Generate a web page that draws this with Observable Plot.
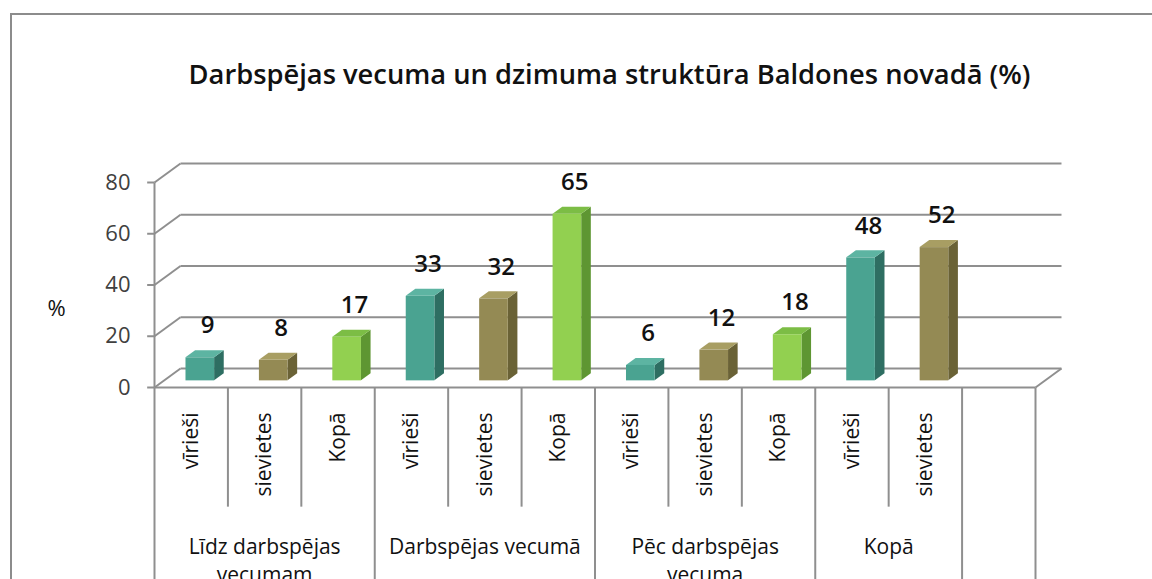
<!DOCTYPE html>
<html>
<head>
<meta charset="utf-8">
<script src="https://cdn.jsdelivr.net/npm/d3@7"></script>
<script src="https://cdn.jsdelivr.net/npm/@observablehq/plot@0.6"></script>
<style>
  html, body { margin: 0; padding: 0; background: #fff; overflow: hidden; }
  #wrap { position: relative; width: 1152px; height: 579px; }
  #border { position: absolute; left: 10px; top: 13px; width: 2000px; height: 2000px; border: 2px solid #8c8c8c; box-sizing: border-box; }
  #chart { position: absolute; left: 0; top: 0; }
</style>
</head>
<body>
<div id="wrap"><div id="border"></div><div id="chart"></div></div>
<script>
// ---- data ----
const title = "Darbspējas vecuma un dzimuma struktūra Baldones novadā (%)";
const yLabel = "%";
const groups = ["Līdz darbspējas\nvecumam", "Darbspējas vecumā", "Pēc darbspējas\nvecuma", "Kopā"];
const groupStart = [0, 3, 6, 9];
const groupSize = [3, 3, 3, 2];
const subs = ["vīrieši", "sievietes", "Kopā", "vīrieši", "sievietes", "Kopā", "vīrieši", "sievietes", "Kopā", "vīrieši", "sievietes"];
const values = [9, 8, 17, 33, 32, 65, 6, 12, 18, 48, 52];
const yTicks = [0, 20, 40, 60, 80];
const slotCount = 12;

// ---- styling ----
const palette = {
  "vīrieši":   {front: "#4aa391", side: "#2e6e62", top: "#5db4a2"},
  "sievietes": {front: "#948a54", side: "#6a6236", top: "#a89e63"},
  "Kopā":      {front: "#92d050", side: "#5e9632", top: "#7cbd45"}
};
const DX = 0.354, DY = 7.4;   // depth vector (in scale units)
const F0 = 0.35, F1 = 0.72;   // bar front / back depth fraction
const BW = 0.39;              // bar width (slot units)
const grid = "#8f8f8f";
const font = "'Open Sans', Lato, sans-serif";
const c = v => () => v;       // constant accessor

const bars = values.map((v, i) => ({i, v, sub: subs[i]}));
const xl = (d, f) => d.i + 0.5 - BW / 2 + f * DX;
const xr = (d, f) => d.i + 0.5 + BW / 2 + f * DX;

const sidePts = bars.flatMap(d => [
  {id: d.i, x: xr(d, F0), y1: F0 * DY, y2: d.v + F0 * DY, fill: palette[d.sub].side},
  {id: d.i, x: xr(d, F1), y1: F1 * DY, y2: d.v + F1 * DY, fill: palette[d.sub].side}
]);
const topPts = bars.flatMap(d => [
  {id: d.i, y: d.v + F0 * DY, x1: xl(d, F0), x2: xr(d, F0), fill: palette[d.sub].top},
  {id: d.i, y: d.v + F1 * DY, x1: xl(d, F1), x2: xr(d, F1), fill: palette[d.sub].top}
]);

const groupIdx = groups.map((g, k) => ({label: g, start: groupStart[k], size: groupSize[k]}));
const majors = new Set([0, slotCount, ...groupStart, groupStart[3] + groupSize[3]]);
const boundaries = d3.range(slotCount + 1).map(b => ({b, major: majors.has(b)}));
const MINOR_END = -46.5, MAJOR_END = -80; // table line lengths (scale units below 0)

const chart = Plot.plot({
  width: 1152,
  height: 579,
  margin: 0,
  x: {type: "linear", domain: [0, slotCount], range: [154, 1035], axis: null},
  y: {type: "linear", domain: [0, 80], range: [387, 182], axis: null},
  color: {type: "identity"},
  style: {fontFamily: font, background: "transparent"},
  marks: [
    // back wall gridlines
    Plot.link(yTicks, {x1: c(DX), x2: c(slotCount + DX), y1: t => t + DY, y2: t => t + DY, stroke: grid, strokeWidth: 2}),
    // side wall diagonals
    Plot.link(yTicks, {x1: c(0), x2: c(DX), y1: t => t, y2: t => t + DY, stroke: grid, strokeWidth: 2}),
    // floor front edge and right edge
    Plot.link([0], {x1: c(0), x2: c(slotCount), y1: c(0), y2: c(0), stroke: grid, strokeWidth: 2}),
    Plot.link([0], {x1: c(slotCount), x2: c(slotCount + DX), y1: c(0), y2: c(DY), stroke: grid, strokeWidth: 2}),
    // y axis line and ticks
    Plot.link([0], {x1: c(0), x2: c(0), y1: c(0), y2: c(80), stroke: grid, strokeWidth: 2}),
    Plot.link(yTicks, {x1: c(-0.1), x2: c(0), y1: t => t, y2: t => t, stroke: grid, strokeWidth: 2}),
    Plot.text(yTicks, {x: c(0), y: t => t, text: t => String(t), dx: -24, textAnchor: "end", fontSize: 22, fill: "#404040"}),
    // category table lines
    Plot.link(boundaries, {x1: d => d.b, x2: d => d.b, y1: c(0), y2: d => d.major ? MAJOR_END : MINOR_END, stroke: grid, strokeWidth: 2}),
    // bars
    Plot.areaY(sidePts, {x: "x", y1: "y1", y2: "y2", z: "id", fill: "fill"}),
    Plot.areaX(topPts, {y: "y", x1: "x1", x2: "x2", z: "id", fill: "fill"}),
    Plot.rect(bars, {x1: d => xl(d, F0), x2: d => xr(d, F0), y1: c(F0 * DY), y2: d => d.v + F0 * DY, fill: d => palette[d.sub].front}),
    // value labels
    Plot.text(bars, {x: d => d.i + 0.5 + F0 * DX + 0.1, y: d => d.v + F0 * DY, text: d => String(d.v), dy: -32, fontSize: 24, fontWeight: 600, fill: "#111"}),
    // sub-category labels
    Plot.text(bars, {x: d => d.i + 0.5, y: c(0), text: "sub", rotate: -90, textAnchor: "end", dy: 25, fontSize: 21, fill: "#111"}),
    // group labels
    Plot.text(groupIdx, {x: d => d.start + d.size / 2, y: c(0), text: "label", dy: 147, lineAnchor: "top", lineHeight: 1.32, fontSize: 21, fill: "#111"}),
    // axis label and title
    Plot.text([yLabel], {frameAnchor: "top-left", dx: 47, dy: 300, text: d => d, fontSize: 22, fill: "#111"}),
    Plot.text([title], {frameAnchor: "top", dx: 33, dy: 64, text: d => d, fontSize: 27.3, fontWeight: 600, fill: "#111"})
  ]
});

document.getElementById("chart").appendChild(chart);
</script>
</body>
</html>
